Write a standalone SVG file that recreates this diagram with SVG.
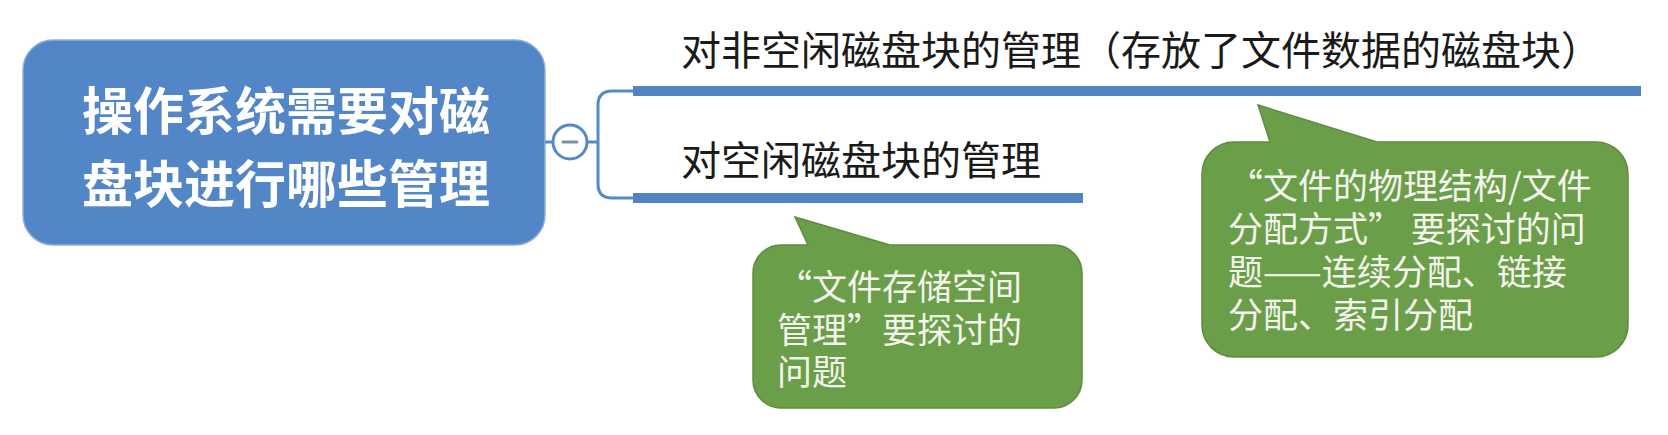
<svg xmlns="http://www.w3.org/2000/svg" width="1668" height="435" viewBox="0 0 1668 435">
<style>
.cjk{font-family:"Noto Sans CJK SC","Noto Sans",sans-serif}
.root-t{font-size:51px;font-weight:bold;fill:#ffffff}
.branch-t{font-size:40px;fill:#1a1a1a}
.note-t{font-size:35px;fill:#f4f4ee}
.bar{fill:#5283c3}
.conn{fill:none;stroke:#5689c8;stroke-width:3}
.note{fill:#6b9e48;stroke:#5f8c3f;stroke-width:1.5}
</style>
<rect width="1668" height="435" fill="#ffffff"/>
<g id="root">
<rect x="23" y="40" width="522" height="205" rx="30" fill="#5286c6" stroke="#8db0dc" stroke-width="1.5"/>
<text class="cjk root-t" x="286" y="130" text-anchor="middle">操作系统需要对磁</text>
<text class="cjk root-t" x="286" y="203" text-anchor="middle">盘块进行哪些管理</text>
</g>
<g id="connectors">
<line class="conn" x1="545" y1="142" x2="553" y2="142"/>
<path class="conn" d="M587,142 L598,142 M633,91 L612,91 Q598,91 598,105 L598,184 Q598,198 612,198 L633,198"/>
<circle cx="570" cy="142" r="17" fill="#ffffff" stroke="#5689c8" stroke-width="3"/>
<line x1="563" y1="142" x2="577" y2="142" stroke="#7f8ea6" stroke-width="3" stroke-linecap="round"/>
</g>
<g id="branch-nonfree">
<rect class="bar" x="633" y="86" width="1008" height="10"/>
<text class="cjk branch-t" x="681" y="65">对非空闲磁盘块的管理（存放了文件数据的磁盘块）</text>
</g>
<g id="branch-free">
<rect class="bar" x="633" y="193" width="450" height="10"/>
<text class="cjk branch-t" x="681" y="175">对空闲磁盘块的管理</text>
</g>
<g id="note-free">
<path class="note" d="M781,245 L808,245 L795,217 L890,245 L1054,245 A28,28 0 0 1 1082,273 L1082,380 A28,28 0 0 1 1054,408 L781,408 A28,28 0 0 1 753,380 L753,273 A28,28 0 0 1 781,245 Z"/>
<text class="cjk note-t" x="777" y="300">“文件存储空间</text>
<text class="cjk note-t" x="777" y="343">管理”要探讨的</text>
<text class="cjk note-t" x="777" y="385">问题</text>
</g>
<g id="note-nonfree">
<path class="note" d="M1234,142 L1270,142 L1258,105 L1377,142 L1596,142 A32,32 0 0 1 1628,174 L1628,325 A32,32 0 0 1 1596,357 L1234,357 A32,32 0 0 1 1202,325 L1202,174 A32,32 0 0 1 1234,142 Z"/>
<text class="cjk note-t" x="1228" y="199">“文件的物理结构/文件</text>
<text class="cjk note-t" x="1228" y="242">分配方式” 要探讨的问</text>
<text class="cjk note-t" x="1228" y="285">题——连续分配、链接</text>
<text class="cjk note-t" x="1228" y="328">分配、索引分配</text>
</g>
</svg>
